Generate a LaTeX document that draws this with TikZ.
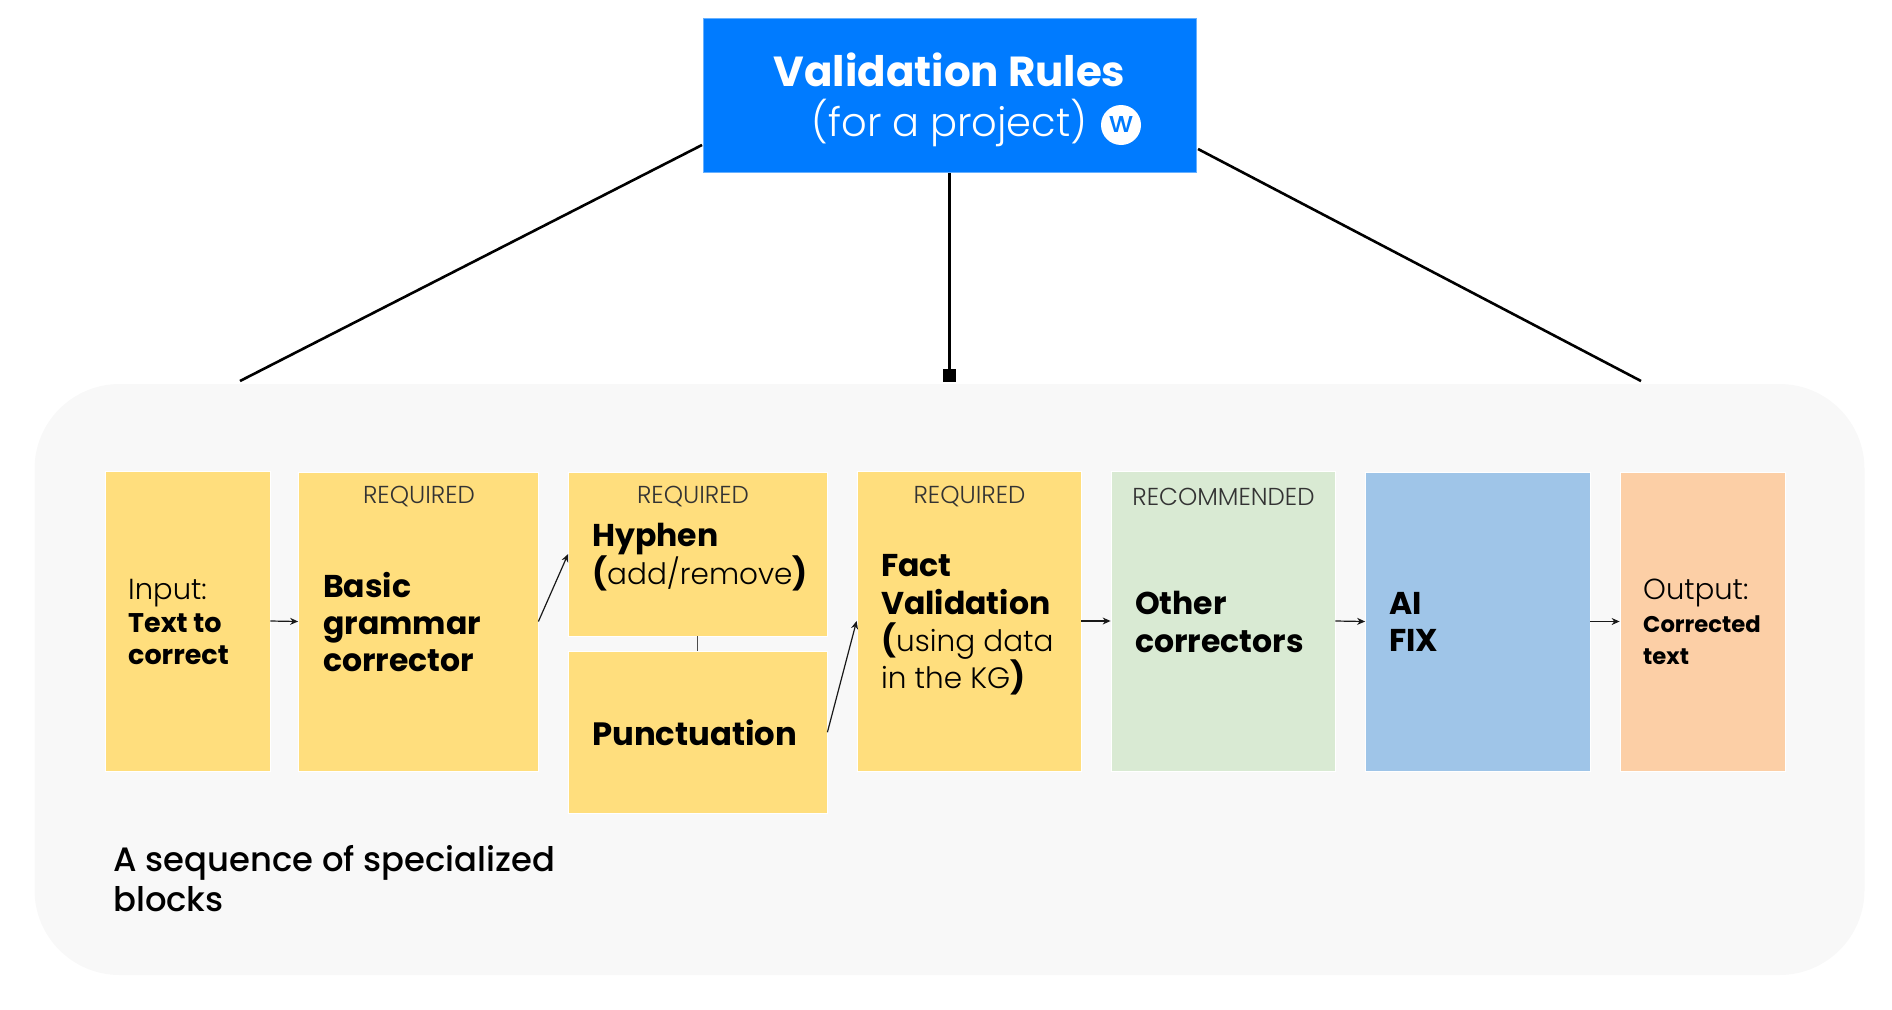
\documentclass[tikz,border=0pt]{standalone}
\usepackage{fontspec}
\setmainfont{Poppins}
\newfontfamily\lightfont{Poppins Light}
\newfontfamily\mediumfont{Poppins Medium}
\usetikzlibrary{arrows.meta}
\definecolor{ruleblue}{HTML}{007BFF}
\definecolor{blockbg}{HTML}{F8F8F8}
\definecolor{blockyellow}{HTML}{FFDE7D}
\definecolor{blockgreen}{HTML}{D9EAD3}
\definecolor{blockblue}{HTML}{9FC5E8}
\definecolor{blockorange}{HTML}{FCCFA6}
\tikzset{
	block/.style={draw=white, line width=0.8pt, inner sep=0pt},
	blocktext/.style={anchor=west, align=left, inner sep=0pt, text=black, font=\fontsize{31.5}{37.4}\selectfont\bfseries},
	smalltext/.style={anchor=west, align=left, inner sep=0pt, text=black, font=\fontsize{27}{32.6}\selectfont},
	taglabel/.style={inner sep=0pt, text=black!80, font=\fontsize{24.5}{26}\selectfont\lightfont},
	flow/.style={-{Stealth[length=8pt,width=7pt]}, line width=1.2pt, black!90}
}
% a block from its corners
\newcommand{\blockat}[6]{\node[block, fill=#2, minimum width={#5-#3}, minimum height={#6-#4}] (#1) at ({(#3+#5)/2},{(#4+#6)/2}) {};}
% light words inside bold text
\newcommand{\lightbit}[1]{{\fontsize{29.5}{37.4}\selectfont\mdseries\lightfont #1}}
\begin{document}
\begin{tikzpicture}[x=1pt,y=-1pt,>=stealth,line cap=butt]
	\useasboundingbox (0,0) rectangle (1892,1009);
	% Background panel
	\node[fill=blockbg, rounded corners=85pt, inner sep=0pt, minimum width=1830pt, minimum height=591pt] (panel) at (949.5,679.5) {};
	% Top box
	\node[fill=ruleblue, draw=ruleblue!60, line width=0.6pt, inner sep=0pt, minimum width=493pt, minimum height=154pt] (rules) at (949.5,95.5) {};
	\node[text=white, inner sep=0pt, font=\fontsize{42}{45}\selectfont\bfseries] (rulestitle) at (949.5,70) {Validation Rules};
	\node[text=white, inner sep=0pt, font=\fontsize{40}{45}\selectfont\lightfont] (rulessub) at (949.5,123) {(for a project)};
	\node[circle, fill=white, inner sep=0pt, minimum size=40pt, text=ruleblue, font=\fontsize{29}{29}\selectfont\mediumfont] (logo) at (1121,125) {w};
	% Lines to the panel
	\coordinate (ruleL) at (702,145);
	\coordinate (ruleR) at (1198,149);
	\coordinate (panelL) at (240,381);
	\coordinate (panelR) at (1641,381);
	\draw[line width=2.6pt] (ruleL) -- (panelL);
	\draw[line width=2.6pt] (ruleR) -- (panelR);
	\draw[line width=2.6pt, shorten >=2pt, -{Square[length=13pt,width=13pt]}] (rules.south) -- (panel.north);
	% Blocks
	\blockat{input}{blockyellow}{105}{471}{270}{771}
	\blockat{basic}{blockyellow}{298.5}{472}{538}{771}
	\blockat{hyphen}{blockyellow}{568.5}{472}{827}{636}
	\blockat{punct}{blockyellow}{568.5}{651}{827}{813.5}
	\blockat{fact}{blockyellow}{857}{471}{1081}{771}
	\blockat{other}{blockgreen}{1111}{471}{1335}{771}
	\blockat{aifix}{blockblue}{1365.5}{472}{1590}{771}
	\blockat{output}{blockorange}{1620}{472}{1785}{771}
	% Tags
	\node[taglabel] (tagbasic) at (419,497) {REQUIRED};
	\node[taglabel] (taghyphen) at (693,497) {REQUIRED};
	\node[taglabel] (tagfact) at (969.5,497) {REQUIRED};
	\node[taglabel] (tagother) at (1223.5,497) {RECOMMENDED};
	% Block texts
	\node[smalltext] (inputtext) at (128,622) {{\fontsize{29}{32.6}\selectfont\lightfont Input:}\\\textbf{Text to}\\\textbf{correct}};
	\node[blocktext] (basictext) at (323,622) {Basic\\grammar\\corrector};
	\node[blocktext] (hyphentext) at (592,557) {Hyphen\\(\lightbit{add/remove})};
	\node[blocktext, font=\fontsize{32.3}{37.4}\selectfont\bfseries] (puncttext) at (592,733) {Punctuation};
	\node[blocktext] (facttext) at (881,625) {Fact\\Validation\\(\lightbit{using data}\\\lightbit{in the KG})};
	\node[blocktext] (othertext) at (1135,622) {Other\\correctors};
	\node[blocktext] (aifixtext) at (1389,622) {AI\\FIX};
	\node[smalltext] (outputtext) at (1643,622) {{\fontsize{29}{32.6}\selectfont\lightfont Output:}\\\fontsize{22.7}{32.6}\selectfont\textbf{Corrected}\\\fontsize{22.7}{32.6}\selectfont\textbf{text}};
	\node[anchor=west, align=left, inner sep=0pt, font=\fontsize{33.8}{40}\selectfont\mediumfont] (caption) at (113,879) {A sequence of specialized\\blocks};
	% Connectors
	\foreach \a/\b in {input/basic, basic/hyphen, punct/fact, fact/other, other/aifix, aifix/output} {
		\draw[flow] (\a.east) -- (\b.west);
	}
	\draw[line width=0.9pt, black!70] (hyphen.south) -- (punct.north);
\end{tikzpicture}
\end{document}
